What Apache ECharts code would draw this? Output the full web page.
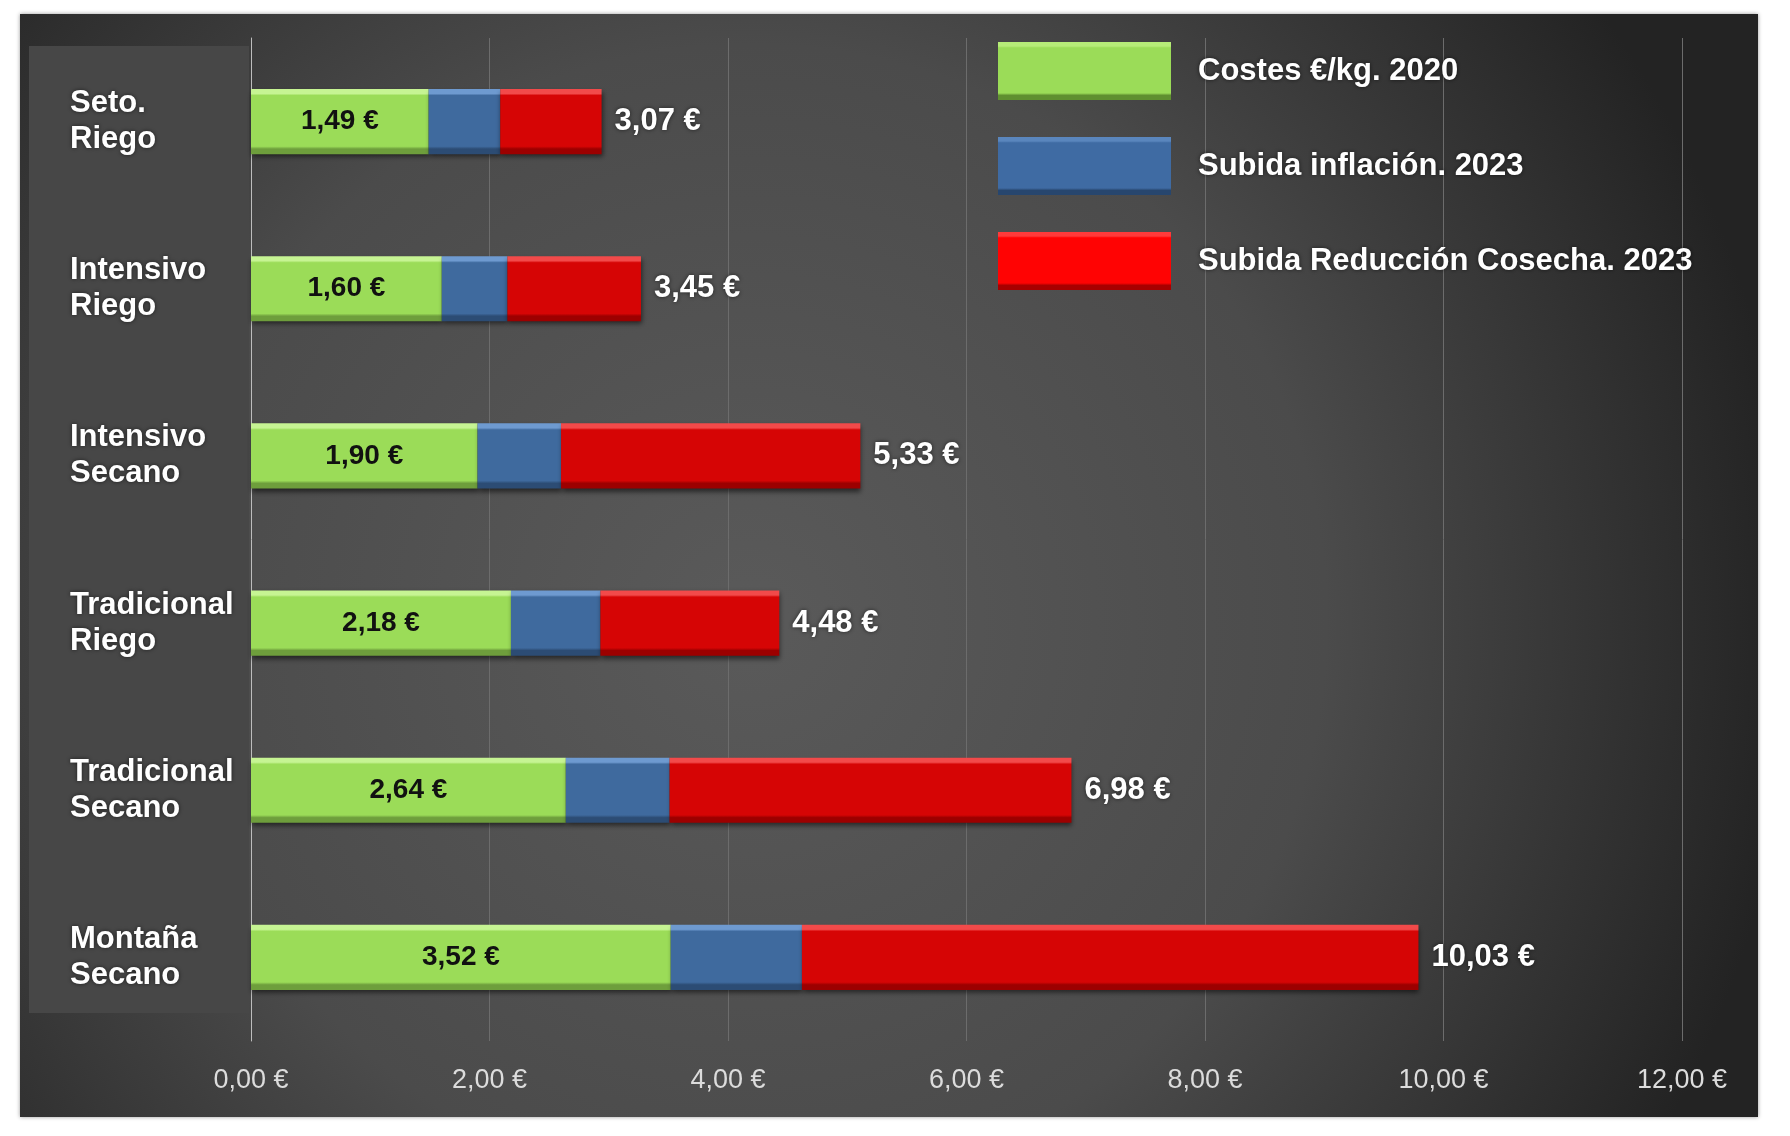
<!DOCTYPE html>
<html>
<head>
<meta charset="utf-8">
<script src="https://cdn.jsdelivr.net/npm/echarts@6/dist/echarts.min.js"></script>
<style>
html,body{margin:0;padding:0;background:#ffffff;}
#chart{width:1790px;height:1136px;}
</style>
</head>
<body>
<div id="chart"></div>
<script>
// ---- data ----
var categories = ['Seto.\nRiego', 'Intensivo\nRiego', 'Intensivo\nSecano', 'Tradicional\nRiego', 'Tradicional\nSecano', 'Montaña\nSecano'];
var costes2020 = [1.49, 1.60, 1.90, 2.18, 2.64, 3.52];
var subidaInflacion = [0.60, 0.55, 0.70, 0.75, 0.87, 1.10];
var subidaReduccion = [0.85, 1.12, 2.51, 1.50, 3.37, 5.17];
var totalLabels = ['3,07 €', '3,45 €', '5,33 €', '4,48 €', '6,98 €', '10,03 €'];
var seriesNames = ['Costes €/kg. 2020', 'Subida inflación. 2023', 'Subida Reducción Cosecha. 2023'];
var xTicks = [0, 2, 4, 6, 8, 10, 12];

var FONT = "'Liberation Sans', Arial, sans-serif";
function euro(v){ return v.toFixed(2).replace('.', ',') + ' €'; }
function bevel(light, base, dark){
  return new echarts.graphic.LinearGradient(0, 0, 0, 1, [
    {offset: 0, color: light},
    {offset: 0.07, color: light},
    {offset: 0.1, color: base},
    {offset: 0.88, color: base},
    {offset: 0.92, color: dark},
    {offset: 1, color: dark}
  ]);
}
var barShadow = {shadowBlur: 5, shadowColor: 'rgba(0,0,0,0.55)', shadowOffsetY: 3, shadowOffsetX: 1};

var chart = echarts.init(document.getElementById('chart'));
var option = {
  backgroundColor: '#ffffff',
  animation: false,
  graphic: [
    {
      type: 'rect', z: -10, silent: true,
      shape: {x: 20, y: 14, width: 1738, height: 1103},
      style: {
        fill: new echarts.graphic.RadialGradient(0.42, 0.55, 0.95, [
          {offset: 0, color: '#5a5a5a'},
          {offset: 0.55, color: '#4b4b4b'},
          {offset: 1, color: '#232323'}
        ]),
        shadowBlur: 4, shadowColor: 'rgba(0,0,0,0.4)'
      }
    },
    {
      type: 'rect', z: -9, silent: true,
      shape: {x: 29, y: 46, width: 220, height: 967},
      style: {fill: '#474747'}
    }
  ],
  legend: {
    orient: 'vertical',
    left: 993, top: 37,
    itemWidth: 173, itemHeight: 58, itemGap: 37,
    icon: 'rect',
    selectedMode: false,
    data: [
      {name: seriesNames[0], itemStyle: {color: bevel('#b6ec78', '#9bdc58', '#5f8f30')}},
      {name: seriesNames[1], itemStyle: {color: bevel('#5a86bd', '#3f6ba3', '#27466e')}},
      {name: seriesNames[2], itemStyle: {color: bevel('#ff3a3a', '#ff0303', '#a80000')}}
    ],
    textStyle: {
      color: '#ffffff', fontFamily: FONT, fontWeight: 'bold', fontSize: 31,
      padding: [8, 0, 0, 22],
      textShadowColor: 'rgba(0,0,0,0.6)', textShadowBlur: 4
    }
  },
  grid: {left: 251, right: 108, top: 38, bottom: 95, containLabel: false},
  xAxis: {
    type: 'value', min: 0, max: 12, interval: 2,
    axisLine: {show: false},
    axisTick: {show: false},
    splitLine: {show: true, lineStyle: {color: '#6c6c6c', width: 1}},
    axisLabel: {
      color: '#dcdcdc', fontFamily: FONT, fontSize: 27, margin: 26,
      formatter: function(v){ return euro(v); }
    }
  },
  yAxis: {
    type: 'category', data: categories, inverse: true,
    axisLine: {show: true, lineStyle: {color: '#bdbdbd', width: 1}},
    axisTick: {show: false},
    axisLabel: {
      color: '#ffffff', fontFamily: FONT, fontWeight: 'bold', fontSize: 31,
      lineHeight: 36, align: 'left', margin: 181,
      padding: [0, 0, 4, 0],
      textShadowColor: 'rgba(0,0,0,0.6)', textShadowBlur: 4
    }
  },
  series: [
    {
      name: seriesNames[0], type: 'bar', stack: 'total', barWidth: '39%',
      data: costes2020,
      itemStyle: Object.assign({color: bevel('#c6f493', '#9bdc58', '#6e9e3c')}, barShadow),
      label: {
        show: true, position: 'inside', color: '#111111',
        fontFamily: FONT, fontWeight: 'bold', fontSize: 28,
        formatter: function(p){ return euro(p.value); }
      }
    },
    {
      name: seriesNames[1], type: 'bar', stack: 'total',
      data: subidaInflacion,
      itemStyle: Object.assign({color: bevel('#6e9ad0', '#3f6a9e', '#2c4c74')}, barShadow)
    },
    {
      name: seriesNames[2], type: 'bar', stack: 'total',
      data: subidaReduccion,
      itemStyle: Object.assign({color: bevel('#f24a4a', '#d60505', '#9c0000')}, barShadow),
      label: {
        show: true, position: 'right', distance: 13, color: '#ffffff',
        fontFamily: FONT, fontWeight: 'bold', fontSize: 31,
        textShadowColor: 'rgba(0,0,0,0.6)', textShadowBlur: 4,
        formatter: function(p){ return totalLabels[p.dataIndex]; }
      }
    }
  ]
};
chart.setOption(option);
</script>
</body>
</html>
